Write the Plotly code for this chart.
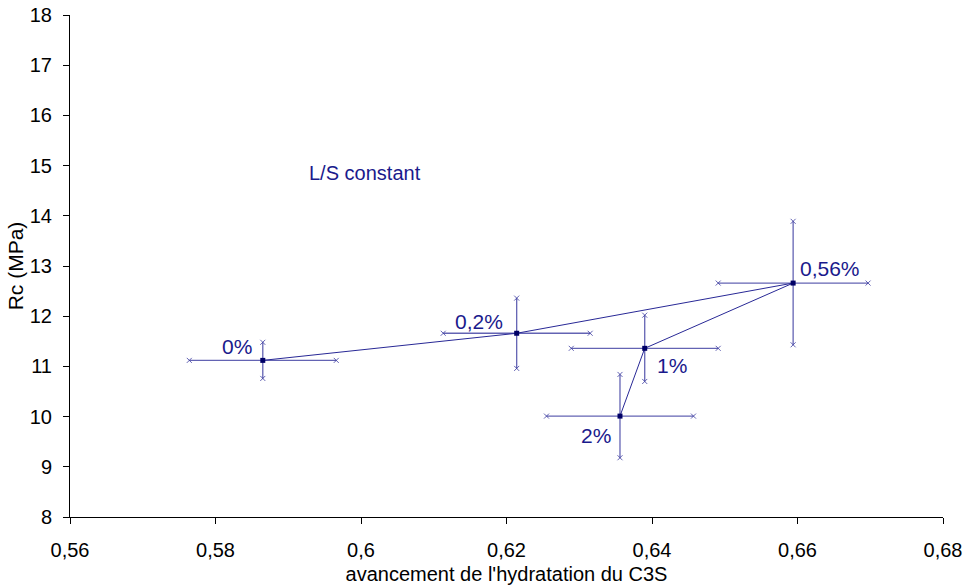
import plotly.graph_objects as go

labels = ["0%", "0,2%", "0,56%", "1%", "2%"]
x_vals = [0.5865, 0.6214, 0.6594, 0.6390, 0.6356]
y_vals = [11.12, 11.66, 12.66, 11.36, 10.01]
x_err = [0.0101, 0.0101, 0.0103, 0.0101, 0.0101]
y_err = [0.36, 0.70, 1.23, 0.66, 0.83]

label_x = [0.5830, 0.6162, 0.6645, 0.6427, 0.6323]
label_y = [11.40, 11.90, 12.96, 11.01, 9.62]

x_ticks = [0.56, 0.58, 0.60, 0.62, 0.64, 0.66, 0.68]
x_ticktext = ["0,56", "0,58", "0,6", "0,62", "0,64", "0,66", "0,68"]
y_ticks = list(range(8, 19))

navy = "#1a1a8c"
err_col = "rgba(60,60,160,0.8)"
FONT = "Liberation Sans, Arial, sans-serif"

fig = go.Figure()

# error bars
fig.add_trace(go.Scatter(
    x=x_vals, y=y_vals, mode="markers",
    marker=dict(size=0.1, color=navy),
    error_x=dict(type="data", array=x_err, color=err_col, thickness=1.3, width=0),
    error_y=dict(type="data", array=y_err, color=err_col, thickness=1.3, width=0),
    showlegend=False, hoverinfo="skip"))

# x-shaped caps at error ends
cap_x, cap_y = [], []
for xv, yv, ex, ey in zip(x_vals, y_vals, x_err, y_err):
    cap_x += [xv - ex, xv + ex, xv, xv]
    cap_y += [yv, yv, yv - ey, yv + ey]
fig.add_trace(go.Scatter(
    x=cap_x, y=cap_y, mode="markers",
    marker=dict(symbol="x-thin", size=5, line=dict(color=err_col, width=1)),
    showlegend=False, hoverinfo="skip"))

# connecting line and markers
fig.add_trace(go.Scatter(
    x=x_vals, y=y_vals, mode="lines+markers",
    line=dict(color="rgb(40,40,150)", width=1),
    marker=dict(symbol="square", size=5, color="#000066"),
    showlegend=False))

for lx, ly, t in zip(label_x, label_y, labels):
    fig.add_annotation(x=lx, y=ly, text=t, showarrow=False,
                       font=dict(family=FONT, size=21, color=navy))

fig.add_annotation(x=0.6005, y=14.85, text="L/S constant", showarrow=False,
                   font=dict(family=FONT, size=20, color=navy))

fig.update_layout(
    width=967, height=588,
    margin=dict(l=70, r=24, t=15, b=71),
    plot_bgcolor="white", paper_bgcolor="white",
    font=dict(family=FONT, size=20, color="black"),
    xaxis=dict(range=[0.56, 0.68], tickvals=x_ticks, ticktext=x_ticktext,
               showgrid=False, zeroline=False, showline=True, linecolor="black",
               linewidth=1, ticks="outside", ticklen=6, tickcolor="black",
               ticklabelstandoff=9, automargin=False,
               title=dict(text="avancement de l'hydratation du C3S", standoff=6,
                          font=dict(size=20))),
    yaxis=dict(range=[8, 18], tickvals=y_ticks, showgrid=False, zeroline=False,
               showline=True, linecolor="black", linewidth=1, ticks="outside",
               ticklen=6, tickcolor="black", ticklabelstandoff=7, automargin=False,
               title=dict(text="Rc (MPa)", standoff=0, font=dict(size=21))),
)

fig.write_html("out.html", config={"displayModeBar": False},
               post_script="document.body.style.margin='0';")
